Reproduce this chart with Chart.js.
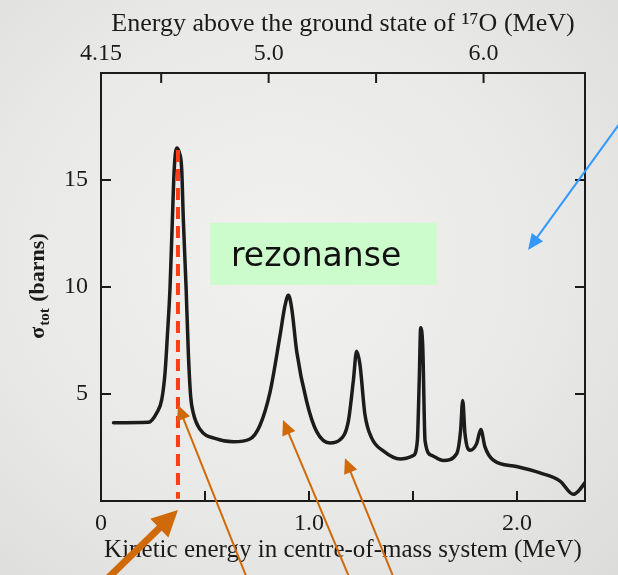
<!DOCTYPE html>
<html>
<head>
  <style>
    html, body {
      margin: 0;
      padding: 0;
    }
    body {
      width: 618px;
      height: 575px;
      overflow: hidden;
      /* photographed page: light grey paper, a bit darker towards the edges */
      background: radial-gradient(ellipse at 45% 45%, #f1f1f0 0%, #e9e9e8 55%, #dcdcdb 100%);
    }
    #chart {
      display: block;
    }
  </style>
  <script src="https://cdn.jsdelivr.net/npm/chart.js"></script>
</head>
<body>
  <canvas id="chart" width="618" height="575"></canvas>
  <script>
    // kinetic energy in the centre-of-mass system (MeV)
    const energyCm = [
      0.06, 0.228, 0.268, 0.292, 0.308, 0.319, 0.332, 0.343, 0.352, 0.364,
      0.376, 0.388, 0.396, 0.409, 0.42, 0.431, 0.444, 0.476, 0.556, 0.636,
      0.716, 0.764, 0.813, 0.861, 0.885, 0.901, 0.917, 0.941, 0.989, 1.037,
      1.101, 1.149, 1.189, 1.213, 1.229, 1.245, 1.269, 1.301, 1.357, 1.438,
      1.501, 1.521, 1.53, 1.537, 1.547, 1.558, 1.59, 1.646, 1.71, 1.729,
      1.739, 1.75, 1.774, 1.806, 1.826, 1.846, 1.886, 1.998, 2.111, 2.207,
      2.271, 2.295, 2.327
    ];
    // total cross section (barns)
    const sigmaTot = [
      3.66, 3.68, 4.12, 4.74, 6.0, 7.7, 10.0, 13.1, 15.5, 16.5,
      16.3, 15.5, 13.1, 10.0, 6.9, 4.9, 4.1, 3.35, 2.9, 2.77,
      2.9, 3.53, 5.1, 7.75, 9.15, 9.62, 9.0, 6.98, 4.64, 3.24,
      2.71, 2.86, 3.72, 5.6, 7.0, 6.38, 4.04, 2.95, 2.34, 1.96,
      2.12, 2.82, 5.62, 8.1, 7.18, 2.82, 2.13, 1.89, 2.21, 3.3,
      4.7, 3.14, 2.37, 2.68, 3.34, 2.53, 1.91, 1.61, 1.31, 0.93,
      0.31, 0.46, 0.86
    ];

    const bottomTicks = [0, 0.5, 1.0, 1.5, 2.0];
    const bottomLabels = ['0', '', '1.0', '', '2.0'];
    // upper axis: excitation energy of 17O; left edge is labelled 4.15 in the source
    const topTicks = [4.22, 4.5, 5.0, 5.5, 6.0];
    const topLabels = ['4.15', '', '5.0', '', '6.0'];
    const yTicks = [5, 10, 15];
    const yLabels = ['5', '10', '15'];

    const ink = '#1b1b1b';
    const serif = "'Liberation Serif', 'DejaVu Serif', serif";
    const tickFont = { family: serif, size: 24 };

    function fixedTicks(values) {
      return scale => { scale.ticks = values.map(v => ({ value: v })); };
    }

    // inward tick marks, the resonance label, the dashed marker and the arrows
    const decorations = {
      id: 'decorations',
      beforeDatasetsDraw(chart) {
        const ctx = chart.ctx;
        const xs = chart.scales.x, ys = chart.scales.y;
        // green "rezonanse" box
        const bx0 = xs.getPixelForValue(0.524), bx1 = xs.getPixelForValue(1.615);
        const by0 = ys.getPixelForValue(13.0), by1 = ys.getPixelForValue(10.1);
        ctx.save();
        ctx.fillStyle = '#ccfccc';
        ctx.fillRect(bx0, by0, bx1 - bx0, by1 - by0);
        ctx.fillStyle = '#111';
        ctx.font = "33px 'Comic Sans MS', 'DejaVu Sans', sans-serif";
        ctx.textBaseline = 'alphabetic';
        ctx.textAlign = 'left';
        ctx.fillText('rezonanse', bx0 + 21, by0 + 43);
        ctx.restore();
      },
      afterDraw(chart) {
        const ctx = chart.ctx;
        const { x: xs, y: ys, x2: ts } = chart.scales;
        const area = chart.chartArea;
        const len = 10;
        ctx.save();
        ctx.strokeStyle = ink;
        ctx.lineWidth = 2;
        ctx.beginPath();
        bottomTicks.slice(1).forEach(v => {
          const px = xs.getPixelForValue(v);
          ctx.moveTo(px, area.bottom);
          ctx.lineTo(px, area.bottom - len);
        });
        topTicks.slice(1).forEach(v => {
          const px = ts.getPixelForValue(v);
          ctx.moveTo(px, area.top);
          ctx.lineTo(px, area.top + len);
        });
        yTicks.forEach(v => {
          const py = ys.getPixelForValue(v);
          ctx.moveTo(area.left, py);
          ctx.lineTo(area.left + len, py);
          ctx.moveTo(area.right, py);
          ctx.lineTo(area.right - len, py);
        });
        ctx.stroke();

        // y axis title: sigma_tot (barns), rotated
        ctx.translate(38, 287);
        ctx.rotate(-Math.PI / 2);
        ctx.fillStyle = ink;
        ctx.textBaseline = 'middle';
        ctx.textAlign = 'left';
        ctx.font = 'bold 22px ' + serif;
        const w1 = ctx.measureText('\u03c3').width;
        ctx.font = 'bold 15px ' + serif;
        const w2 = ctx.measureText('tot').width;
        ctx.font = 'bold 22px ' + serif;
        const w3 = ctx.measureText(' (barns)').width;
        let sx = -(w1 + w2 + w3) / 2;
        ctx.fillText('\u03c3', sx, 0);
        ctx.font = 'bold 15px ' + serif;
        ctx.fillText('tot', sx + w1 + 1, 7);
        ctx.font = 'bold 22px ' + serif;
        ctx.fillText(' (barns)', sx + w1 + w2 + 2, 0);
        ctx.setTransform(1, 0, 0, 1, 0, 0);

        // red dashed marker under the first resonance
        ctx.strokeStyle = '#ff3c14';
        ctx.lineWidth = 4;
        ctx.setLineDash([12, 7]);
        ctx.beginPath();
        ctx.moveTo(xs.getPixelForValue(0.37), ys.getPixelForValue(16.4));
        ctx.lineTo(xs.getPixelForValue(0.37), ys.getPixelForValue(0.1));
        ctx.stroke();
        ctx.setLineDash([]);

        function arrow(x0, y0, x1, y1, color, width, head, spread) {
          const p0 = [xs.getPixelForValue(x0), ys.getPixelForValue(y0)];
          const p1 = [xs.getPixelForValue(x1), ys.getPixelForValue(y1)];
          const ang = Math.atan2(p1[1] - p0[1], p1[0] - p0[0]);
          ctx.strokeStyle = color;
          ctx.fillStyle = color;
          ctx.lineWidth = width;
          ctx.lineCap = 'butt';
          ctx.beginPath();
          ctx.moveTo(p0[0], p0[1]);
          ctx.lineTo(p1[0] - Math.cos(ang) * head * 0.8, p1[1] - Math.sin(ang) * head * 0.8);
          ctx.stroke();
          ctx.beginPath();
          ctx.moveTo(p1[0], p1[1]);
          ctx.lineTo(p1[0] - Math.cos(ang) * head + Math.sin(ang) * spread,
                     p1[1] - Math.sin(ang) * head - Math.cos(ang) * spread);
          ctx.lineTo(p1[0] - Math.cos(ang) * head - Math.sin(ang) * spread,
                     p1[1] - Math.sin(ang) * head + Math.cos(ang) * spread);
          ctx.closePath();
          ctx.fill();
        }
        const orange = '#d06a08';
        arrow(-0.03, -4.2, 0.37, -0.42, orange, 7, 26, 13);
        arrow(0.726, -4.2, 0.37, 4.49, orange, 2, 15, 7);
        arrow(1.221, -4.2, 0.875, 3.79, orange, 2, 15, 7);
        arrow(1.433, -4.2, 1.173, 2.0, orange, 2, 15, 7);
        arrow(2.55, 18.4, 2.053, 11.73, '#3399ff', 2, 16, 7);
        ctx.restore();
      }
    };

    new Chart(document.getElementById('chart'), {
      type: 'line',
      data: {
        datasets: [{
          data: energyCm.map((e, i) => ({ x: e, y: sigmaTot[i] })),
          borderColor: '#1c1c1c',
          borderWidth: 3.5,
          pointRadius: 0,
          fill: false,
          cubicInterpolationMode: 'monotone',
          borderCapStyle: 'round',
          borderJoinStyle: 'round'
        }]
      },
      options: {
        responsive: false,
        animation: false,
        events: [],
        layout: { padding: 0 },
        plugins: {
          legend: { display: false },
          tooltip: { enabled: false }
        },
        scales: {
          x: {
            type: 'linear',
            position: 'bottom',
            min: 0,
            max: 2.327,
            afterFit: s => { s.height = 74; },
            afterBuildTicks: fixedTicks(bottomTicks),
            ticks: {
              autoSkip: false,
              maxRotation: 0,
              padding: 8,
              color: ink,
              font: tickFont,
              callback: (v, i) => bottomLabels[i]
            },
            grid: { display: false, drawTicks: false },
            border: { display: true, color: ink, width: 2 },
            title: {
              display: true,
              text: 'Kinetic energy in centre-of-mass system (MeV)',
              color: ink,
              font: { family: serif, size: 25 },
              padding: { top: 0, bottom: 10 }
            }
          },
          x2: {
            type: 'linear',
            position: 'top',
            min: 4.22,
            max: 6.472,
            afterFit: s => { s.height = 73; },
            afterBuildTicks: fixedTicks(topTicks),
            ticks: {
              autoSkip: false,
              maxRotation: 0,
              padding: 5,
              color: ink,
              font: tickFont,
              callback: (v, i) => topLabels[i]
            },
            grid: { display: false, drawTicks: false },
            border: { display: true, color: ink, width: 2 },
            title: {
              display: true,
              text: 'Energy above the ground state of \u00b9\u2077O (MeV)',
              color: ink,
              font: { family: serif, size: 26 },
              padding: { top: 9, bottom: 0 }
            }
          },
          y: {
            type: 'linear',
            position: 'left',
            min: 0,
            max: 20,
            afterFit: s => { s.width = 101; },
            afterBuildTicks: fixedTicks(yTicks),
            ticks: {
              padding: 13,
              color: ink,
              font: tickFont,
              callback: (v, i) => yLabels[i]
            },
            grid: { display: false, drawTicks: false },
            border: { display: true, color: ink, width: 2 }
          },
          y2: {
            type: 'linear',
            position: 'right',
            min: 0,
            max: 20,
            afterFit: s => { s.width = 33; },
            ticks: { display: false },
            grid: { display: false, drawTicks: false },
            border: { display: true, color: ink, width: 2 }
          }
        }
      },
      plugins: [decorations]
    });
  </script>
</body>
</html>
